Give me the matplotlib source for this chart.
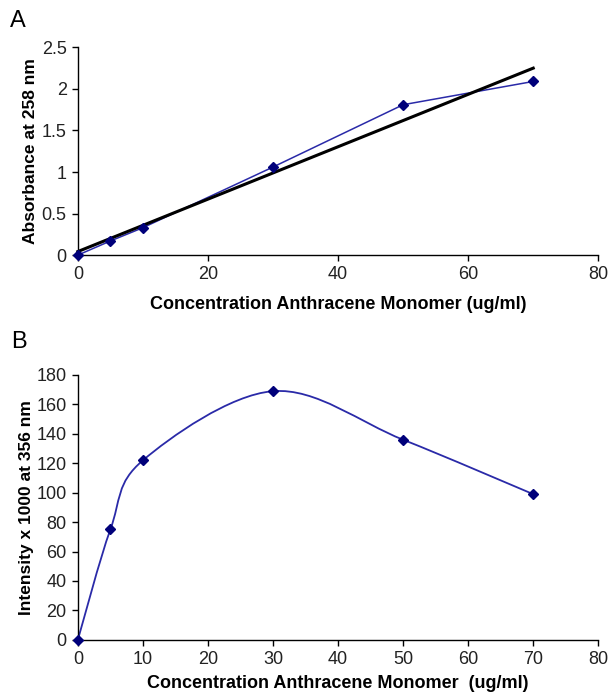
import numpy as np
import matplotlib.pyplot as plt
from matplotlib.path import Path
from matplotlib.patches import PathPatch

plt.rcParams['font.family'] = ['Liberation Sans', 'DejaVu Sans']

# Panel A: absorbance
conc_a = [0, 5, 10, 30, 50, 70]
absorb = [0.0, 0.17, 0.33, 1.06, 1.81, 2.09]

# Panel B: fluorescence intensity
conc_b = [0, 5, 10, 30, 50, 70]
intensity = [0, 75, 122, 169, 136, 99]

line_col = '#2a2aa8'
mark_col = '#00007a'


def style_axes(ax):
    for s in ['top', 'right']:
        ax.spines[s].set_visible(False)
    for s in ['left', 'bottom']:
        ax.spines[s].set_linewidth(1.0)
    ax.tick_params(direction='out', length=4, width=1, labelsize=13, pad=4,
                   labelcolor='#222222')


def smooth_path(x, y):
    # Excel-style smoothed line: cubic Bezier segments (Catmull-Rom control points)
    pts = np.column_stack([x, y]).astype(float)
    n = len(pts)
    verts = [pts[0]]
    codes = [Path.MOVETO]
    for k in range(n - 1):
        p0 = pts[k - 1] if k > 0 else pts[k]
        p1 = pts[k]
        p2 = pts[k + 1]
        p3 = pts[k + 2] if k + 2 < n else pts[k + 1]
        c1 = p1 + (p2 - p0) / 6.0
        c2 = p2 - (p3 - p1) / 6.0
        verts += [c1, c2, p2]
        codes += [Path.CURVE4] * 3
    return Path(verts, codes)


fig = plt.figure(figsize=(6.13, 6.97), dpi=100)

# ---- A ----
axA = fig.add_axes([0.127, 0.634, 0.849, 0.298])
style_axes(axA)
axA.plot(conc_a, absorb, '-', color=line_col, lw=1.1, zorder=2)
axA.plot(conc_a, absorb, 'D', color=mark_col, ms=5, zorder=4)
slope, icpt = np.polyfit(conc_a, absorb, 1)
xfit = np.array([0, 70])
axA.plot(xfit, slope * xfit + icpt, '-', color='black', lw=2.2, zorder=3)
axA.set_xlim(0, 80)
axA.set_ylim(0, 2.5)
axA.set_xticks([0, 20, 40, 60, 80])
axA.set_yticks([0, 0.5, 1, 1.5, 2, 2.5])
axA.set_yticklabels(['0', '0.5', '1', '1.5', '2', '2.5'])
axA.set_xlabel('Concentration Anthracene Monomer (ug/ml)', fontsize=13,
               fontweight='bold', labelpad=9)
axA.set_ylabel('Absorbance at 258 nm', fontsize=12.5, fontweight='bold', labelpad=3)
for ln in axA.lines:
    ln.set_clip_on(False)
fig.text(0.016, 0.985, 'A', fontsize=17, va='top', ha='left')

# ---- B ----
axB = fig.add_axes([0.127, 0.082, 0.849, 0.380])
style_axes(axB)
axB.add_patch(PathPatch(smooth_path(conc_b, intensity), facecolor='none',
                        edgecolor=line_col, lw=1.3, zorder=2))
axB.plot(conc_b, intensity, 'D', color=mark_col, ms=5, zorder=4, clip_on=False)
axB.set_xlim(0, 80)
axB.set_ylim(0, 180)
axB.set_xticks(range(0, 81, 10))
axB.set_yticks(range(0, 181, 20))
axB.set_xlabel('Concentration Anthracene Monomer  (ug/ml)', fontsize=13,
               fontweight='bold', labelpad=5)
axB.set_ylabel('Intensity x 1000 at 356 nm', fontsize=12.5, fontweight='bold', labelpad=2)
fig.text(0.018, 0.525, 'B', fontsize=17, va='top', ha='left')

fig.savefig('out.png', dpi=100)
